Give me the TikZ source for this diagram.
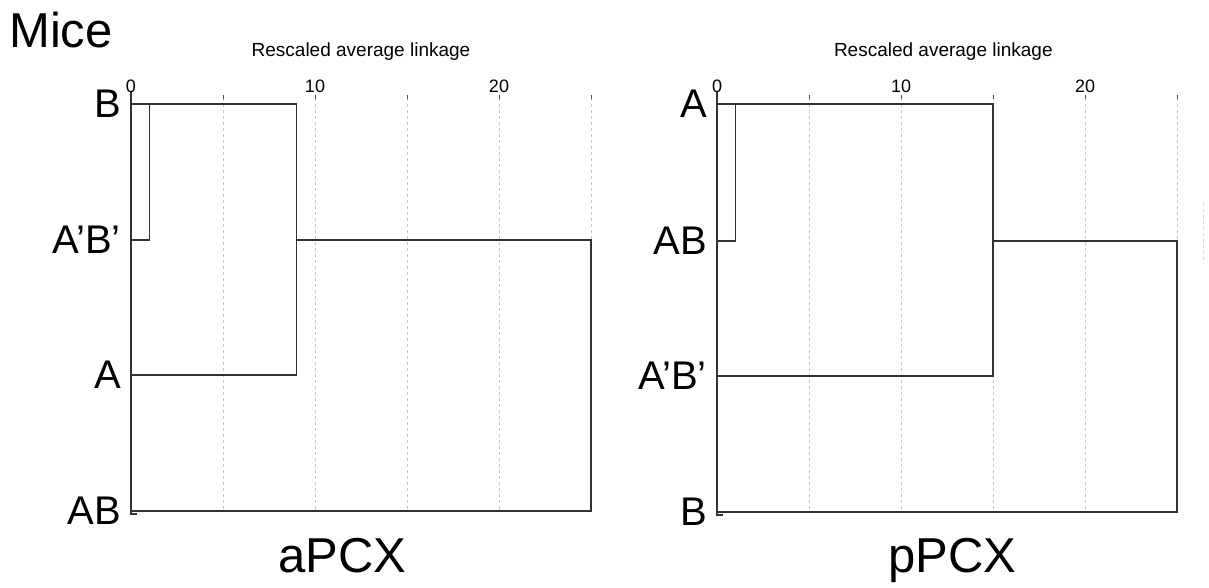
\documentclass[tikz,border=0pt]{standalone}
\usepackage{fontspec}
\setmainfont{Liberation Sans}
\usepackage{tikz}

\tikzset{
  link/.style={line width=1.5pt,color=black!80},
  gridline/.style={line width=0.8pt,color=gray!45,dash pattern=on 3pt off 3pt},
  tickmark/.style={line width=1pt,color=black!70},
  leaf/.style={font=\fontsize{40}{40}\selectfont,anchor=east,inner sep=0pt},
  ticklabel/.style={font=\fontsize{18}{18}\selectfont,inner sep=0pt},
  axistitle/.style={font=\fontsize{19}{19}\selectfont,inner sep=0pt},
  bigtext/.style={font=\fontsize{49}{49}\selectfont,inner sep=0pt}
}

\begin{document}
\begin{tikzpicture}[x=1pt,y=-1pt]
  \useasboundingbox (0,0) rectangle (1209,587);
  \node[bigtext,anchor=base west] (mice) at (9,47) {Mice};

  % aPCX
  \begin{scope}[shift={(131,0)},x=18.4pt]
    \foreach \t in {5,10,...,25} {
      \draw[gridline] (\t,98) -- (\t,511);
      \draw[tickmark] (\t,95) -- (\t,99);
    }
    \foreach \t in {0,10,20}
      \node[ticklabel] at (\t,86) {\t};
    \node[axistitle] (atitle) at (12.5,52) {Rescaled average linkage};
    \draw[link] (0,92) -- (0,514) -- (0.3,514);
    \coordinate (aB) at (0,104);
    \coordinate (aApBp) at (0,240);
    \coordinate (aA) at (0,375);
    \coordinate (aAB) at (0,511);
    \coordinate (am1) at (1,104);
    \coordinate (am2) at (9,104);
    \coordinate (am3) at (25,240);
    \node[leaf] (aBlab) at (-0.55,104) {B};
    \node[leaf] (aApBplab) at (-0.55,240) {A’B’};
    \node[leaf] (aAlab) at (-0.55,375) {A};
    \node[leaf] (aABlab) at (-0.55,511) {AB};
    \draw[link] (aB) -- (am2) |- (aA);
    \draw[link] (am1) |- (aApBp);
    \draw[link] (am2 |- aApBp) -- (am3) |- (aAB);
    \node[bigtext,anchor=base] (alab) at (11.5,572) {aPCX};
  \end{scope}

  % pPCX
  \begin{scope}[shift={(717,0)},x=18.4pt]
    \foreach \t in {5,10,...,25} {
      \draw[gridline] (\t,98) -- (\t,512);
      \draw[tickmark] (\t,95) -- (\t,99);
    }
    \foreach \t in {0,10,20}
      \node[ticklabel] at (\t,86) {\t};
    \node[axistitle] (ptitle) at (12.3,52) {Rescaled average linkage};
    \draw[link] (0,92) -- (0,515) -- (0.3,515);
    \coordinate (pA) at (0,104);
    \coordinate (pAB) at (0,241);
    \coordinate (pApBp) at (0,376);
    \coordinate (pB) at (0,512);
    \coordinate (pm1) at (1,104);
    \coordinate (pm2) at (15,104);
    \coordinate (pm3) at (25,241);
    \node[leaf] (pAlab) at (-0.55,104) {A};
    \node[leaf] (pABlab) at (-0.55,241) {AB};
    \node[leaf] (pApBplab) at (-0.55,376) {A’B’};
    \node[leaf] (pBlab) at (-0.55,512) {B};
    \draw[link] (pA) -- (pm2) |- (pApBp);
    \draw[link] (pm1) |- (pAB);
    \draw[link] (pm2 |- pAB) -- (pm3) |- (pB);
    \node[bigtext,anchor=base] (plab) at (12.8,572) {pPCX};
  \end{scope}

  \draw[gridline,color=gray!30] (1203,203) -- (1203,262);
\end{tikzpicture}
\end{document}
